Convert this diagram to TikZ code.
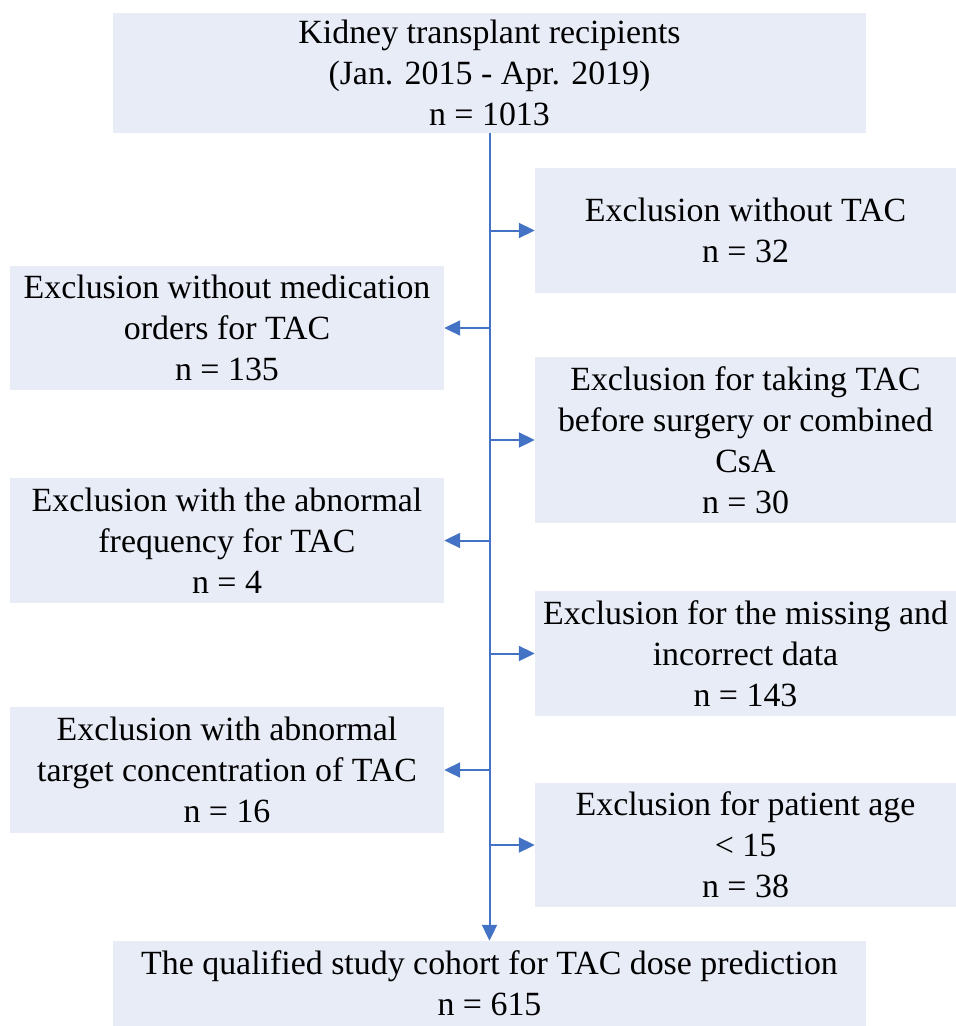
\documentclass[tikz,border=0pt]{standalone}
\usepackage{fontspec}
\setmainfont{Liberation Serif}
\usetikzlibrary{arrows.meta}
\definecolor{boxfill}{HTML}{E8ECF7}
\definecolor{linecol}{HTML}{4472C4}
\tikzset{
  box/.style={fill=boxfill, draw=none, align=center, inner sep=0pt, anchor=center,
    font=\fontsize{33.9}{41}\selectfont, text=black},
  widebox/.style={box, minimum width=753pt},
  rbox/.style={box, minimum width=421pt},
  lbox/.style={box, minimum width=434pt},
  arr/.style={draw=linecol, line width=2pt, -{Triangle[length=16pt,width=15pt]}}
}
\begin{document}
\begin{tikzpicture}[x=1pt,y=-1pt]
\useasboundingbox (0,0) rectangle (956,1026);
\node[widebox, minimum height=120pt] (top) at (489.5,73) {Kidney transplant recipients\\(Jan. 2015 - Apr. 2019)\\n = 1013};
\node[rbox, minimum height=125pt] (r1) at (745.5,230.5) {Exclusion without TAC\\n = 32};
\node[lbox, minimum height=124pt] (l1) at (227,328) {Exclusion without medication\\orders for TAC\\n = 135};
\node[rbox, minimum height=166pt] (r2) at (745.5,440) {Exclusion for taking TAC\\before surgery or combined\\CsA\\n = 30};
\node[lbox, minimum height=125pt] (l2) at (227,540.5) {Exclusion with the abnormal\\frequency for TAC\\n = 4};
\node[rbox, minimum height=125pt] (r3) at (745.5,653.5) {Exclusion for the missing and\\incorrect data\\n = 143};
\node[lbox, minimum height=126pt] (l3) at (227,770) {Exclusion with abnormal\\target concentration of TAC\\n = 16};
\node[rbox, minimum height=124pt] (r4) at (745.5,845) {Exclusion for patient age\\< 15\\n = 38};
\node[widebox, minimum height=85pt] (bot) at (489.5,983.5) {The qualified study cohort for TAC dose prediction\\n = 615};
\draw[arr] (top.south) -- (bot.north);
\foreach \n in {r1,l1,r2,l2,r3,l3,r4}{
  \draw[arr] (top.south |- \n.east) -- (\n);
}
\end{tikzpicture}
\end{document}
